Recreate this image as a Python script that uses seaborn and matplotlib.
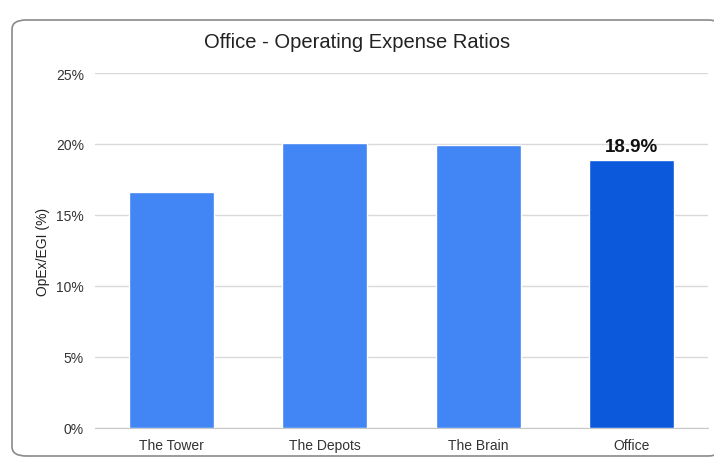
import numpy as np
import pandas as pd
import seaborn as sns
from matplotlib import pyplot as plt
from matplotlib.patches import FancyBboxPatch
from matplotlib.ticker import PercentFormatter

# data
properties = ['The Tower', 'The Depots', 'The Brain', 'Office']
opex_ratio = [16.6, 20.1, 19.9, 18.9]
bar_colors = ['#4285F4', '#4285F4', '#4285F4', '#0D59DB']

df = pd.DataFrame({'property': properties, 'ratio': opex_ratio})

sns.set_style('white')
plt.rcParams['font.family'] = ['Liberation Sans', 'DejaVu Sans']

fig = plt.figure(figsize=(7.14, 4.6), dpi=100)

# rounded outer frame, drawn behind the axes
frame = FancyBboxPatch((12 / 714, 3 / 460), 710 / 714, 436 / 460,
                       boxstyle='round,pad=0,rounding_size=0.02',
                       transform=fig.transFigure, facecolor='white',
                       edgecolor='#8a8a8a', linewidth=1.2, zorder=-5)
fig.patches.append(frame)

ax = fig.add_axes([95 / 714, 31 / 460, 613 / 714, 355 / 460])
ax.patch.set_alpha(0)

sns.barplot(data=df, x='property', y='ratio', hue='property',
            palette=bar_colors, saturation=1, width=0.555, legend=False,
            ax=ax, zorder=3)

ax.set_xlim(-0.5, 3.5)
ax.set_ylim(0, 25)
ax.set_yticks([0, 5, 10, 15, 20, 25])
ax.yaxis.set_major_formatter(PercentFormatter(decimals=0))
ax.grid(axis='y', color='#d9d9d9', linewidth=1, zorder=0)
for side in ['top', 'right', 'left']:
    ax.spines[side].set_visible(False)
ax.spines['bottom'].set_color('#c8c8c8')
ax.tick_params(axis='both', length=0, labelsize=10, labelcolor='#333333')
ax.tick_params(axis='y', pad=8)
ax.tick_params(axis='x', pad=7)
ax.set_xlabel('')
ax.set_ylabel('OpEx/EGI (%)', fontsize=10, color='#222222', labelpad=4)

# highlight label on the last bar
ax.text(3, opex_ratio[-1] + 0.35, '{:.1f}%'.format(opex_ratio[-1]),
        ha='center', va='bottom', fontsize=13.5, fontweight='bold', color='#111111')

fig.text(0.5, 1 - 42 / 460, 'Office - Operating Expense Ratios',
         ha='center', va='center', fontsize=14.5, color='#222222')

fig.savefig('out.png', dpi=100)
